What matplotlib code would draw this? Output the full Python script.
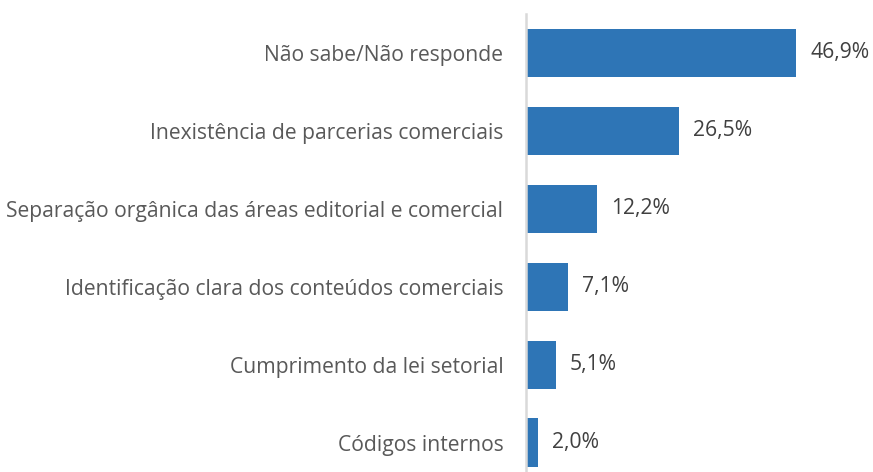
import matplotlib
matplotlib.use("Agg")
import matplotlib.pyplot as plt

categories = [
    "Não sabe/Não responde",
    "Inexistência de parcerias comerciais",
    "Separação orgânica das áreas editorial e comercial",
    "Identificação clara dos conteúdos comerciais",
    "Cumprimento da lei setorial",
    "Códigos internos",
]
values = [46.9, 26.5, 12.2, 7.1, 5.1, 2.0]
value_labels = ["46,9%", "26,5%", "12,2%", "7,1%", "5,1%", "2,0%"]

plt.rcParams['font.family'] = ['Open Sans', 'DejaVu Sans']

fig = plt.figure(figsize=(8.73, 4.72), dpi=100)
ax = fig.add_axes([0.602, -0.0203, 0.395, 0.9907])

y = list(range(len(categories)))
ax.barh(y, values, height=0.62, color="#2E75B6", left=0.2)
ax.set_ylim(len(categories) - 0.5, -0.5)
ax.set_xlim(0, 60)

for yi, v, lab in zip(y, values, value_labels):
    ax.annotate(lab, (v + 0.2, yi), xytext=(14, 0), textcoords="offset pixels",
                va="center", ha="left", fontsize=15.2, color="#404040")

ax.set_yticks(y)
ax.set_yticklabels(categories, fontsize=15.2, color="#595959")
ax.tick_params(axis="y", length=0, pad=16)
ax.set_xticks([])
for s in ["top", "right", "bottom"]:
    ax.spines[s].set_visible(False)
ax.spines["left"].set_color("#D9D9D9")
ax.spines["left"].set_linewidth(1.8)

fig.savefig("out.png", dpi=100)
